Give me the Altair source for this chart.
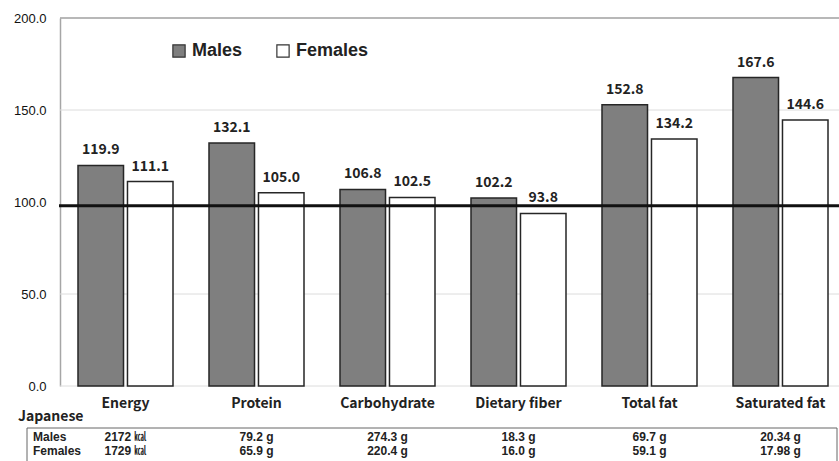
import altair as alt
import pandas as pd

# Intake relative to the reference value (%), by nutrient and sex
categories = ["Energy", "Protein", "Carbohydrate", "Dietary fiber", "Total fat", "Saturated fat"]
males_pct = [119.9, 132.1, 106.8, 102.2, 152.8, 167.6]
females_pct = [111.1, 105.0, 102.5, 93.8, 134.2, 144.6]

# Reference intake of the Japanese population, shown in the table under the axis
males_intake = ["2172 ㎉", "79.2 g", "274.3 g", "18.3 g", "69.7 g", "20.34 g"]
females_intake = ["1729 ㎉", "65.9 g", "220.4 g", "16.0 g", "59.1 g", "17.98 g"]

sexes = ["Males", "Females"]
y_ticks = [0, 50, 100, 150, 200]
grid_values = [0, 50, 150]
reference_level = 98

bars_df = pd.DataFrame(
    {
        "nutrient": categories * 2,
        "sex": ["Males"] * len(categories) + ["Females"] * len(categories),
        "pct": males_pct + females_pct,
    }
)
table_df = pd.DataFrame(
    {"nutrient": categories, "males": males_intake, "females": females_intake}
)
grid_df = pd.DataFrame({"pct": grid_values})

FONT = "Noto Sans CJK JP"
TABLE_FONT = "Liberation Sans, Noto Sans CJK JP"
W, H = 779, 368

x_scale = alt.Scale(domain=categories, range=[0, 786], paddingInner=0.2748, paddingOuter=0.1374)
y_scale = alt.Scale(domain=[0, 200], nice=False)

x_axis = alt.Axis(
    title=None, domain=False, ticks=False, labelAngle=0,
    labelFont=FONT, labelFontSize=14, labelFontWeight="bold",
    labelColor="#222", labelPadding=10,
)
y_axis = alt.Axis(
    title=None, values=y_ticks, format=".1f", grid=False, ticks=False,
    domainColor="#a6a6a6", domainWidth=1.5,
    labelFont="Liberation Sans", labelFontSize=13, labelColor="#111",
    labelPadding=14,
)

x_enc = alt.X("nutrient:N", sort=categories, scale=x_scale, axis=x_axis)
x_off = alt.XOffset("sex:N", sort=sexes, scale=alt.Scale(domain=sexes, paddingInner=0.08, paddingOuter=0))
y_enc = alt.Y("pct:Q", scale=y_scale, axis=y_axis)

grid = alt.Chart(grid_df).mark_rule(color="#dcdcdc", strokeWidth=1).encode(
    y=y_enc, x=alt.value(0), x2=alt.value(W),
)
top_line = alt.Chart(grid_df).transform_filter("datum.pct == 0").mark_rule(
    color="#a0a0a0", strokeWidth=1.5
).encode(y=alt.datum(200), x=alt.value(0), x2=alt.value(W))

bars = alt.Chart(bars_df).mark_bar(stroke="#262626", strokeWidth=1.5).encode(
    x=x_enc,
    xOffset=x_off,
    y=y_enc,
    fill=alt.Fill(
        "sex:N",
        sort=sexes,
        scale=alt.Scale(domain=sexes, range=["#7f7f7f", "#ffffff"]),
        legend=alt.Legend(
            title=None, orient="none", legendX=110, legendY=24, direction="horizontal",
            symbolType="square", symbolSize=150, symbolStrokeColor="#333",
            symbolStrokeWidth=1.2, labelFont="Liberation Sans", labelFontSize=18,
            labelFontWeight="bold", labelColor="#222", labelOffset=4,
            columnPadding=31, padding=0,
        ),
    ),
)

values = alt.Chart(bars_df).mark_text(
    font=FONT, fontSize=14, fontWeight="bold", color="#222", dy=-8, baseline="bottom"
).encode(
    x=x_enc, xOffset=x_off, y=y_enc,
    text=alt.Text("pct:Q", format=".1f"),
)

ref_line = alt.Chart(grid_df).transform_filter("datum.pct == 0").mark_rule(
    color="#111111", strokeWidth=3
).encode(y=alt.datum(reference_level), x=alt.value(-1), x2=alt.value(W))

# Intake table below the category labels
table_box = alt.Chart(grid_df).transform_filter("datum.pct == 0").mark_rect(
    fill=None, stroke="#666", strokeWidth=1
).encode(x=alt.value(-33), x2=alt.value(777), y=alt.value(410), y2=alt.value(470))
row_text = dict(font=TABLE_FONT, fontSize=12, fontWeight="bold", color="#222", baseline="middle")
japanese = alt.Chart(grid_df).transform_filter("datum.pct == 0").mark_text(
    align="left", text="Japanese", font=FONT, fontSize=14, fontWeight="bold",
    color="#222", baseline="middle",
).encode(x=alt.value(-42), y=alt.value(399))
males_lbl = alt.Chart(grid_df).transform_filter("datum.pct == 0").mark_text(
    align="left", text="Males", **row_text
).encode(x=alt.value(-27), y=alt.value(419))
females_lbl = alt.Chart(grid_df).transform_filter("datum.pct == 0").mark_text(
    align="left", text="Females", **row_text
).encode(x=alt.value(-27), y=alt.value(433))
males_vals = alt.Chart(table_df).mark_text(align="center", **row_text).encode(
    x=x_enc, y=alt.value(419), text="males:N",
)
females_vals = alt.Chart(table_df).mark_text(align="center", **row_text).encode(
    x=x_enc, y=alt.value(433), text="females:N",
)

chart = (
    alt.layer(
        grid, top_line, bars, values, ref_line,
        table_box, japanese, males_lbl, females_lbl, males_vals, females_vals,
    )
    .properties(
        width=W, height=H,
        autosize=alt.AutoSizeParams(type="none"),
        padding={"left": 60, "top": 18, "right": 0, "bottom": 75},
        background="white",
    )
    .configure_view(stroke=None)
)

chart.save("out.html", embed_options={"renderer": "svg", "actions": False})
